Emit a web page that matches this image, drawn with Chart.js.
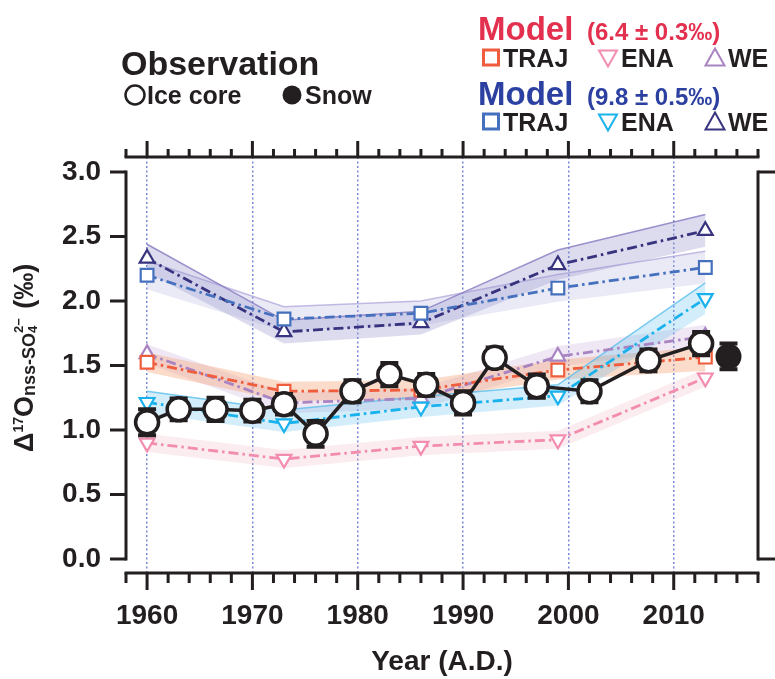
<!DOCTYPE html>
<html>
<head>
<meta charset="utf-8">
<script src="https://cdn.jsdelivr.net/npm/chart.js@4.4.1/dist/chart.umd.min.js"></script>
<style>
  html, body { margin: 0; padding: 0; background: #fff; }
</style>
</head>
<body>
<canvas id="chart" width="775" height="679"></canvas>
<script>
const FONT = '"Liberation Sans", Arial, Helvetica, sans-serif';
const INK = '#231f20';

// observation: ice core (open circles) and snow (filled circle)
const obsYears = [1960, 1963, 1966.5, 1970, 1973, 1976, 1979.5, 1983, 1986.5, 1990, 1993, 1997, 2002, 2007.6, 2012.6];
const obsValues = [1.06, 1.16, 1.16, 1.15, 1.20, 0.97, 1.30, 1.43, 1.35, 1.21, 1.56, 1.34, 1.30, 1.54, 1.67];
const obsErrors = [0.10, 0.085, 0.09, 0.085, 0.08, 0.10, 0.085, 0.09, 0.085, 0.09, 0.08, 0.09, 0.085, 0.085, 0.09];
const snowYears = [2015.2];
const snowValues = [1.57];
const snowErrors = [0.10];

// model runs (red = 6.4 permil case, blue = 9.8 permil case)
const modelYears = [1960, 1973, 1986, 1999, 2013];
const redTraj = [1.525, 1.30, 1.31, 1.465, 1.565];
const redTrajHi = [1.60, 1.375, 1.385, 1.545, 1.645];
const redTrajLo = [1.45, 1.225, 1.235, 1.39, 1.46];
const redEna = [0.90, 0.775, 0.875, 0.925, 1.405];
const redEnaHi = [0.97, 0.845, 0.945, 0.995, 1.475];
const redEnaLo = [0.83, 0.705, 0.805, 0.855, 1.335];
const redWe = [1.59, 1.21, 1.245, 1.57, 1.725];
const redWeHi = [1.665, 1.29, 1.325, 1.65, 1.815];
const redWeLo = [1.515, 1.13, 1.165, 1.49, 1.64];
const blueTraj = [2.20, 1.86, 1.905, 2.10, 2.26];
const blueTrajHi = [2.31, 1.955, 2.0, 2.205, 2.385];
const blueTrajLo = [2.09, 1.765, 1.81, 1.995, 2.135];
const blueEna = [1.215, 1.05, 1.18, 1.265, 2.02];
const blueEnaHi = [1.30, 1.155, 1.26, 1.35, 2.14];
const blueEnaLo = [1.13, 0.985, 1.10, 1.19, 1.90];
const blueWe = [2.33, 1.76, 1.83, 2.28, 2.545];
const blueWeHi = [2.44, 1.85, 1.92, 2.395, 2.67];
const blueWeLo = [2.22, 1.67, 1.74, 2.165, 2.42];

const xTicks = [1960, 1970, 1980, 1990, 2000, 2010];
const yTicks = [0, 0.5, 1.0, 1.5, 2.0, 2.5, 3.0];

function pts(xs, ys) {
    return xs.map((x, i) => ({x: x, y: ys[i]}));
}

function modelLine(label, values, color, style, rotation, radius) {
    return {
        label: label,
        data: pts(modelYears, values),
        borderColor: color,
        borderWidth: 2.8,
        borderDash: [10, 4, 2.5, 4],
        pointStyle: style,
        pointRotation: rotation,
        pointRadius: radius,
        pointBorderWidth: 2.2,
        pointBorderColor: color,
        pointBackgroundColor: '#fff',
        fill: false,
        tension: 0,
        order: 2
    };
}

function band(label, hi, lo, fillColor, edgeColor) {
    return [{
        label: label + ' hi',
        data: pts(modelYears, hi),
        borderColor: edgeColor,
        borderWidth: edgeColor ? 1.5 : 0,
        backgroundColor: fillColor,
        pointRadius: 0,
        fill: '+1',
        tension: 0,
        order: 3
    }, {
        label: label + ' lo',
        data: pts(modelYears, lo),
        borderWidth: 0,
        pointRadius: 0,
        fill: false,
        tension: 0,
        order: 3
    }];
}

const datasets = [
    {
        label: 'Ice core',
        data: pts(obsYears, obsValues),
        errors: obsErrors,
        borderColor: INK,
        borderWidth: 3.5,
        pointRadius: 11.5,
        pointBorderWidth: 3.5,
        pointBorderColor: INK,
        pointBackgroundColor: '#fff',
        tension: 0,
        order: 0
    },
    {
        label: 'Snow',
        data: pts(snowYears, snowValues),
        errors: snowErrors,
        showLine: false,
        pointRadius: 12,
        pointBorderWidth: 2,
        pointBorderColor: INK,
        pointBackgroundColor: INK,
        order: 0
    },
    modelLine('Blue ENA', blueEna, '#19b2ec', 'triangle', 180, 8.5),
    modelLine('Blue TRAJ', blueTraj, '#4470bd', 'rect', 0, 9),
    modelLine('Blue WE', blueWe, '#37337f', 'triangle', 0, 8.5),
    modelLine('Red TRAJ', redTraj, '#ef5d3c', 'rect', 0, 9),
    modelLine('Red WE', redWe, '#a884c2', 'triangle', 0, 8.5),
    modelLine('Red ENA', redEna, '#f28db0', 'triangle', 180, 8.5),
    ...band('Blue WE', blueWeHi, blueWeLo, 'rgba(150,145,205,0.32)', 'rgba(140,128,195,0.85)'),
    ...band('Blue TRAJ', blueTrajHi, blueTrajLo, 'rgba(170,170,220,0.25)', 'rgba(180,170,220,0.8)'),
    ...band('Blue ENA', blueEnaHi, blueEnaLo, 'rgba(80,185,235,0.25)', 'rgba(90,190,235,0.8)'),
    ...band('Red TRAJ', redTrajHi, redTrajLo, 'rgba(245,160,115,0.38)', null),
    ...band('Red WE', redWeHi, redWeLo, 'rgba(190,165,210,0.25)', null),
    ...band('Red ENA', redEnaHi, redEnaLo, 'rgba(240,180,195,0.25)', null)
];

// error bars, drawn just under their own dataset so the circles cover the stem
const errorBars = {
    id: 'errorBars',
    beforeDatasetDraw(chart, args) {
        const ds = chart.data.datasets[args.index];
        if (!ds.errors) return;
        const ctx = chart.ctx, xs = chart.scales.x, ys = chart.scales.y;
        ctx.save();
        ctx.strokeStyle = INK;
        ctx.lineWidth = 4;
        ds.data.forEach((p, i) => {
            const x = xs.getPixelForValue(p.x);
            const y1 = ys.getPixelForValue(p.y + ds.errors[i]);
            const y2 = ys.getPixelForValue(p.y - ds.errors[i]);
            ctx.beginPath();
            ctx.moveTo(x, y1); ctx.lineTo(x, y2);
            ctx.moveTo(x - 9, y1); ctx.lineTo(x + 9, y1);
            ctx.moveTo(x - 9, y2); ctx.lineTo(x + 9, y2);
            ctx.stroke();
        });
        ctx.restore();
    }
};

// axis frame: full top/bottom axes with minor ticks, bracketed left/right axes
const frame = {
    id: 'frame',
    afterDraw(chart) {
        const ctx = chart.ctx, a = chart.chartArea, xs = chart.scales.x, ys = chart.scales.y;
        const y0 = ys.getPixelForValue(0), y3 = ys.getPixelForValue(3);
        ctx.save();
        ctx.strokeStyle = INK;
        ctx.lineWidth = 3;
        ctx.lineCap = 'square';
        ctx.beginPath();
        ctx.moveTo(a.left, a.bottom); ctx.lineTo(a.right, a.bottom);
        ctx.moveTo(a.left, a.top); ctx.lineTo(a.right, a.top);
        ctx.moveTo(a.left, y3); ctx.lineTo(a.left, y0);
        ctx.moveTo(a.right, y3); ctx.lineTo(a.right, y0);
        ctx.stroke();
        ctx.lineCap = 'butt';
        ctx.beginPath();
        for (let yr = 1958; yr <= 2018; yr += 2) {
            const x = xs.getPixelForValue(yr);
            const big = yr % 10 === 0;
            ctx.moveTo(x, a.bottom); ctx.lineTo(x, a.bottom + (big ? 17 : 10));
            ctx.moveTo(x, a.top); ctx.lineTo(x, a.top - (big ? 16 : 8));
        }
        yTicks.forEach(v => {
            const y = ys.getPixelForValue(v);
            ctx.moveTo(a.left, y); ctx.lineTo(a.left - 16, y);
        });
        ctx.moveTo(a.right, y3); ctx.lineTo(a.right + 17, y3);
        ctx.moveTo(a.right, y0); ctx.lineTo(a.right + 17, y0);
        ctx.stroke();
        ctx.restore();
    }
};

// y title with super/subscripts, rotated
const yTitle = {
    id: 'yTitle',
    afterDraw(chart) {
        const ctx = chart.ctx;
        ctx.save();
        ctx.translate(33, 452);
        ctx.rotate(-Math.PI / 2);
        ctx.fillStyle = INK;
        ctx.textBaseline = 'alphabetic';
        let x = 0;
        const part = (text, size, dy) => {
            ctx.font = 'bold ' + size + 'px ' + FONT;
            ctx.fillText(text, x, dy);
            x += ctx.measureText(text).width;
        };
        part('\u0394', 27, 0);
        part('17', 14, -10);
        part('O', 27, 0);
        part('nss-SO', 18, 2);
        ctx.font = 'bold 13px ' + FONT;
        ctx.fillText('4', x, 4);
        ctx.fillText('2\u2212', x, -10);
        x += Math.max(ctx.measureText('4').width, ctx.measureText('2\u2212').width) + 2;
        part(' (\u2030)', 27, 0);
        ctx.restore();
    }
};

function icon(ctx, kind, cx, cy, color, lw) {
    ctx.save();
    ctx.strokeStyle = color;
    ctx.fillStyle = color;
    ctx.lineWidth = lw;
    ctx.beginPath();
    if (kind === 'square') {
        ctx.rect(cx - 7.5, cy - 7.5, 15, 15);
    } else if (kind === 'down') {
        ctx.moveTo(cx - 9, cy - 7); ctx.lineTo(cx + 9, cy - 7); ctx.lineTo(cx, cy + 9); ctx.closePath();
    } else if (kind === 'up') {
        ctx.moveTo(cx - 9.5, cy + 8); ctx.lineTo(cx + 9.5, cy + 8); ctx.lineTo(cx, cy - 9); ctx.closePath();
    } else {
        ctx.arc(cx, cy, 9.5, 0, Math.PI * 2);
    }
    if (kind === 'dot') ctx.fill(); else ctx.stroke();
    ctx.restore();
}

const legendBlock = {
    id: 'legendBlock',
    afterDraw(chart) {
        const ctx = chart.ctx;
        ctx.save();
        ctx.textBaseline = 'alphabetic';
        ctx.fillStyle = INK;
        ctx.font = 'bold 34px ' + FONT;
        ctx.fillText('Observation', 121, 75);
        icon(ctx, 'circle', 135, 95, INK, 2.5);
        icon(ctx, 'dot', 292, 95, INK, 1);
        ctx.fillStyle = INK;
        ctx.font = 'bold 25px ' + FONT;
        ctx.fillText('Ice core', 147, 104);
        ctx.fillText('Snow', 305, 104);

        const groups = [
            {title: 'Model', sub: '(6.4 \u00b1 0.3\u2030)', color: '#e2304e', y: 40, rowY: 67,
             icons: ['#ef5d3c', '#f28db0', '#a884c2']},
            {title: 'Model', sub: '(9.8 \u00b1 0.5\u2030)', color: '#2b40a0', y: 105, rowY: 131,
             icons: ['#4470bd', '#19b2ec', '#37337f']}
        ];
        groups.forEach(g => {
            ctx.fillStyle = g.color;
            ctx.font = 'bold 33px ' + FONT;
            ctx.fillText(g.title, 478, g.y);
            ctx.font = 'bold 24px ' + FONT;
            ctx.fillText(g.sub, 587, g.y);
            const cy = g.rowY - 9.5;
            icon(ctx, 'square', 491, cy, g.icons[0], 3);
            icon(ctx, 'down', 608, cy, g.icons[1], 2);
            icon(ctx, 'up', 715, cy, g.icons[2], 2);
            ctx.fillStyle = INK;
            ctx.font = 'bold 25px ' + FONT;
            ctx.fillText('TRAJ', 503, g.rowY);
            ctx.fillText('ENA', 621, g.rowY);
            ctx.fillText('WE', 728, g.rowY);
        });
        ctx.restore();
    }
};

const tickFont = {family: FONT, size: 28, weight: 'bold'};

new Chart(document.getElementById('chart').getContext('2d'), {
    type: 'line',
    data: {datasets: datasets},
    options: {
        responsive: false,
        maintainAspectRatio: false,
        devicePixelRatio: 1,
        animation: false,
        layout: {padding: {top: 157, right: 17, left: 0, bottom: 0}},
        plugins: {legend: {display: false}, tooltip: {enabled: false}},
        scales: {
            x: {
                type: 'linear', min: 1958, max: 2018,
                afterBuildTicks: s => { s.ticks = xTicks.map(v => ({value: v})); },
                afterFit: s => { s.height = 106; },
                ticks: {font: tickFont, color: INK, padding: 9, maxRotation: 0, autoSkip: false, callback: v => String(v)},
                grid: {color: 'rgba(95,115,205,0.85)', lineWidth: 1.5, drawTicks: true, tickLength: 17, tickColor: 'rgba(0,0,0,0)'},
                border: {display: false, dash: [2, 2.5]},
                title: {display: true, text: 'Year (A.D.)', font: tickFont, color: INK, padding: {top: 0, bottom: 0}}
            },
            y: {
                type: 'linear', min: -0.1085, max: 3.1163,
                afterBuildTicks: s => { s.ticks = yTicks.map(v => ({value: v})); },
                afterFit: s => { s.width = 126; },
                ticks: {font: tickFont, color: INK, padding: 9, callback: v => v.toFixed(1)},
                grid: {display: false, drawTicks: true, tickLength: 16},
                border: {display: false}
            }
        }
    },
    plugins: [errorBars, frame, yTitle, legendBlock]
});
</script>
</body>
</html>
